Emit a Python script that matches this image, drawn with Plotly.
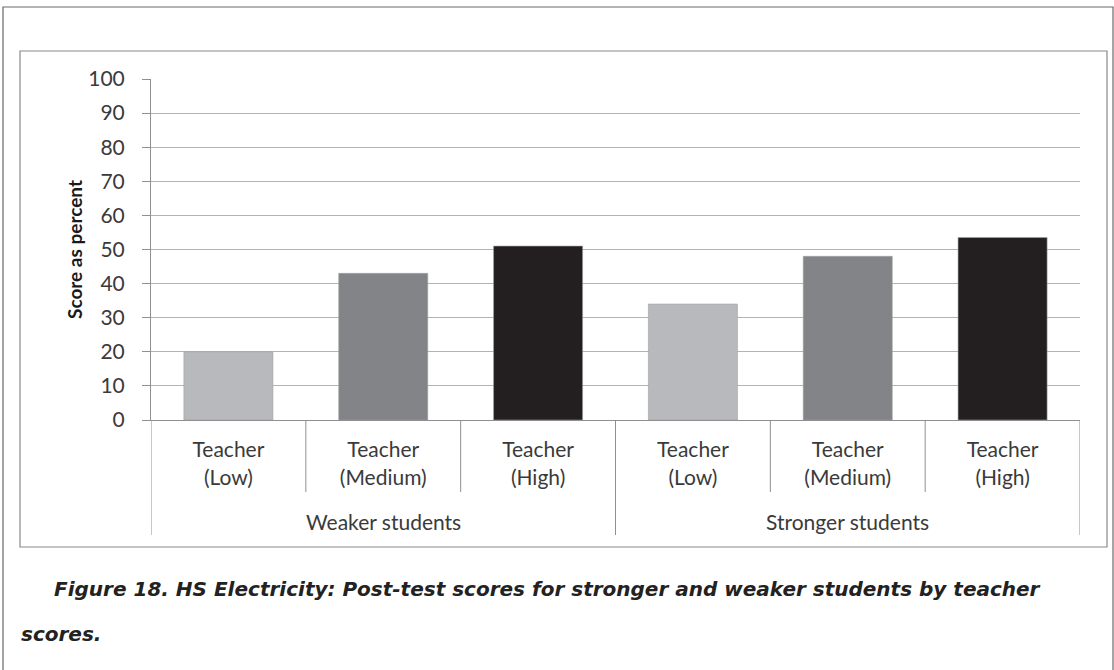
import plotly.graph_objects as go

group_names = ["Weaker students", "Stronger students"]
teacher_levels = ["Teacher<br>(Low)", "Teacher<br>(Medium)", "Teacher<br>(High)"]
scores = [20, 43, 51, 34, 48, 53.5]
bar_colors = ["#b8b9bc", "#838488", "#231f20"] * 2
y_ticks = list(range(0, 101, 10))
y_title = "Score as percent"
caption1 = "Figure 18. HS Electricity: Post-test scores for stronger and weaker students by teacher"
caption2 = "scores."

W, H = 1114, 670
L, R, T, B = 151, 1080, 79, 420  # plot area in pixels

def px(x):
    return (x - L) / (R - L)

def py(y):
    return (B - y) / (B - T)

n_levels = len(teacher_levels)
n = len(scores)
xs = list(range(n))
labels = teacher_levels * len(group_names)

fig = go.Figure()
fig.add_trace(go.Bar(
    x=xs, y=scores,
    marker=dict(color=bar_colors, line=dict(color="#a0a0a0", width=0.6)),
    width=0.575, showlegend=False,
))

font_main = "Lato"
txt_col = "#3a3a3a"
axis_col = "#8f8f8f"
fig.update_layout(
    width=W, height=H,
    margin=dict(l=L, r=W - R, t=T, b=H - B),
    paper_bgcolor="white", plot_bgcolor="white",
    font=dict(family=font_main, size=21, color=txt_col),
)
fig.update_xaxes(
    range=[-0.5, n - 0.5], tickvals=xs, ticktext=labels,
    showline=True, linecolor=axis_col, linewidth=1,
    ticks="", showgrid=False, zeroline=False,
    tickfont=dict(family=font_main, size=21, color=txt_col),
    ticklabelstandoff=11,
)
fig.update_yaxes(
    range=[0, 100], tickvals=y_ticks,
    showgrid=True, gridcolor="#b3b3b3", gridwidth=1.2,
    showline=True, linecolor=axis_col, linewidth=1,
    ticks="outside", ticklen=8, tickcolor=axis_col,
    tickfont=dict(family=font_main, size=21, color=txt_col),
    ticklabelstandoff=13,
    zeroline=False,
)

# y-axis title
fig.add_annotation(text="<b>" + y_title + "</b>", xref="paper", yref="paper",
                   x=px(74), y=py(250), xanchor="center", yanchor="middle",
                   textangle=-90, showarrow=False,
                   font=dict(family=font_main, size=19, color="#1a1a1a"))

# separators between teacher levels (short) and between groups / edges (long)
for i in range(n + 1):
    xb = i - 0.5
    long_line = (i % n_levels == 0)
    fig.add_shape(type="line", xref="x", yref="paper",
                  x0=xb, x1=xb, y0=0, y1=py(535 if long_line else 492),
                  line=dict(color=axis_col, width=1))

# group labels
for g, name in enumerate(group_names):
    fig.add_annotation(text=name, xref="x", yref="paper",
                       x=g * n_levels + (n_levels - 1) / 2, y=py(521),
                       xanchor="center", yanchor="middle", showarrow=False,
                       font=dict(family=font_main, size=21, color=txt_col))

# outer and inner frames
fig.add_shape(type="rect", xref="paper", yref="paper",
              x0=px(3), x1=px(1113), y0=py(700), y1=py(7),
              line=dict(color="#6a6a6a", width=1.2), layer="below")
fig.add_shape(type="rect", xref="paper", yref="paper",
              x0=px(20), x1=px(1107), y0=py(547), y1=py(51),
              line=dict(color="#8a8a8a", width=1.2), layer="below")

cap_font = dict(family="DejaVu Sans", size=20, color="#222222")
fig.add_annotation(text="<i><b>" + caption1 + "</b></i>", xref="paper", yref="paper",
                   x=px(52), y=py(589), xanchor="left", yanchor="middle", showarrow=False,
                   font=cap_font)
fig.add_annotation(text="<i><b>" + caption2 + "</b></i>", xref="paper", yref="paper",
                   x=px(19), y=py(634), xanchor="left", yanchor="middle", showarrow=False,
                   font=cap_font)

fig.write_html("out.html", config={"displayModeBar": False},
               post_script="document.body.style.margin='0';")
